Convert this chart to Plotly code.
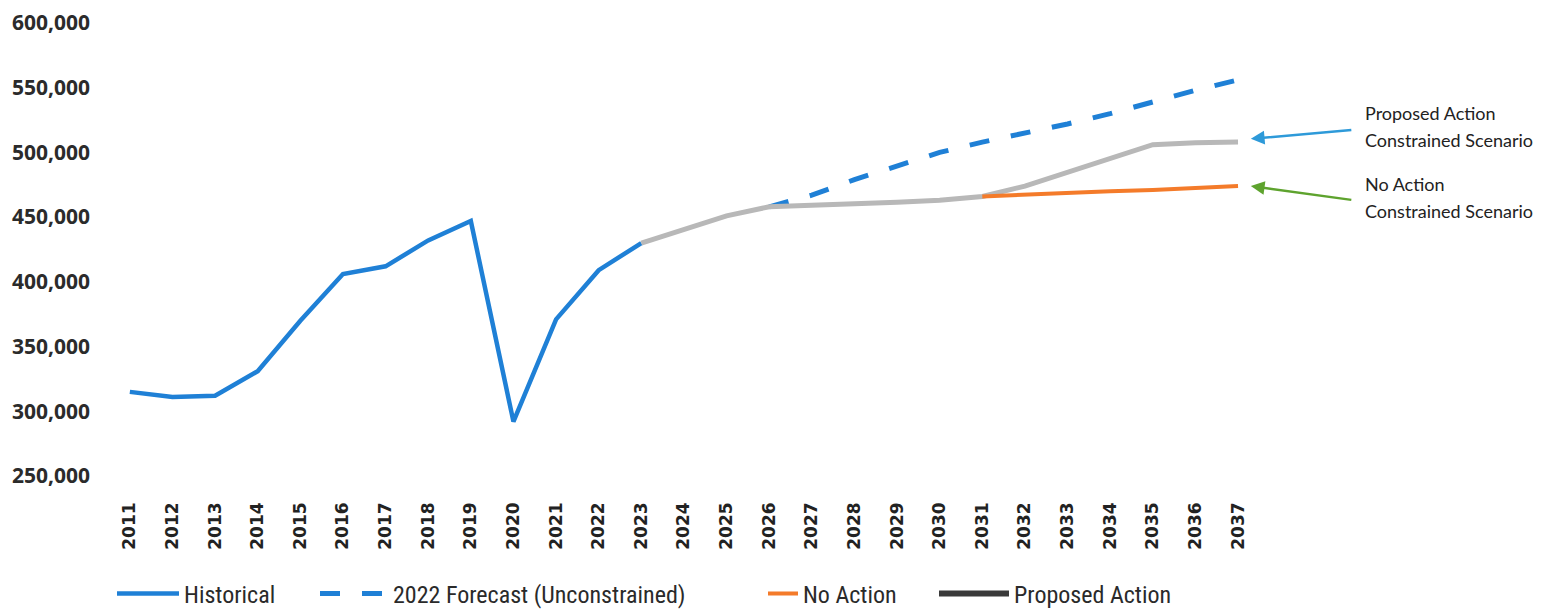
import plotly.graph_objects as go

years = list(range(2011, 2038))

hist_years = list(range(2011, 2024))
historical = [315000, 311000, 312000, 331000, 370000, 406000, 412000, 432000, 447000,
              292000, 371000, 409000, 430000]

forecast_years = list(range(2026, 2038))
forecast_2022 = [458000, 467000, 479000, 490000, 500000, 508000, 515000, 522000,
                 530000, 539000, 548000, 556000]

proposed_years = list(range(2023, 2038))
proposed_action = [430000, 441000, 451000, 458000, 459000, 460000, 461500, 463000,
                   466000, 474000, 485000, 496000, 506000, 507500, 508000]

noaction_years = list(range(2031, 2038))
no_action = [466000, 467500, 468500, 470000, 471000, 472500, 474000]

y_ticks = [250000, 300000, 350000, 400000, 450000, 500000, 550000, 600000]

BLUE = "#1f80d6"
ORANGE = "#f47b2a"
GRAY = "#b8b8b8"
DARK = "#3a3a3a"

fig = go.Figure()

fig.add_trace(go.Scatter(x=forecast_years, y=forecast_2022, mode="lines",
                         name="2022 Forecast (Unconstrained)",
                         line=dict(color=BLUE, width=5, dash="20px,22px"),
                         legend="legend2"))
fig.add_trace(go.Scatter(x=hist_years, y=historical, mode="lines", name="Historical",
                         line=dict(color=BLUE, width=4.5), legend="legend"))
fig.add_trace(go.Scatter(x=proposed_years, y=proposed_action, mode="lines",
                         name="Proposed Action", line=dict(color=GRAY, width=5),
                         showlegend=False))
fig.add_trace(go.Scatter(x=noaction_years, y=no_action, mode="lines", name="No Action",
                         line=dict(color=ORANGE, width=4), legend="legend3"))
# legend-only entry (the legend swatch of the proposed action is drawn dark)
fig.add_trace(go.Scatter(x=[None], y=[None], mode="lines", name="Proposed Action",
                         line=dict(color=DARK, width=6), legend="legend4"))

legend_font = dict(family="Roboto Condensed, Roboto, Liberation Sans, sans-serif",
                   size=24, color="#2a2a2a")

# plot area in page pixels (page body adds an 8px offset)
PLOT_TOP, PLOT_BOTTOM = 23, 476
PLOT_H = PLOT_BOTTOM - PLOT_TOP
leg_y = (PLOT_BOTTOM - 594) / PLOT_H


def leg(xp, w):
    return dict(x=xp, y=leg_y, xanchor="left", yanchor="middle", orientation="h",
                font=legend_font, bgcolor="rgba(0,0,0,0)", itemwidth=w,
                borderwidth=0)


fig.update_layout(
    width=1545, height=614,
    margin=dict(l=92, r=283, t=PLOT_TOP - 8, b=614 - (PLOT_BOTTOM - 8), autoexpand=False),
    paper_bgcolor="white", plot_bgcolor="white",
    legend=leg((112 - 100) / 1170, 62),
    legend2=leg((315 - 100) / 1170, 68),
    legend3=leg((763 - 100) / 1170, 30),
    legend4=leg((934 - 100) / 1170, 70),
    xaxis=dict(range=[2010.3, 2037.75], tickmode="array", tickvals=years,
               ticktext=[str(y) for y in years], tickangle=-90, automargin=False,
               showgrid=False, zeroline=False, showline=False, ticks="",
               ticklabelstandoff=22, ticklabeloverflow="allow",
               tickfont=dict(family="DejaVu Sans", size=17, color="#222222", weight="bold")),
    yaxis=dict(range=[250000, 600000], tickmode="array", tickvals=y_ticks,
               tickformat=",d", showgrid=False, zeroline=False, showline=False,
               ticks="", ticklabelstandoff=9, automargin=False,
               ticklabeloverflow="allow",
               tickfont=dict(family="Open Sans", size=21, color="#2b2b2b", weight="bold")),
)

ann_font = dict(family="Lato", size=18, color="#222222")
labels = [("Proposed Action", 113), ("Constrained Scenario", 140),
          ("No Action", 184), ("Constrained Scenario", 211)]
for txt, py in labels:
    fig.add_annotation(text=txt, xref="paper", yref="paper",
                       x=(1363 - 100) / 1170, y=(PLOT_BOTTOM - py) / PLOT_H,
                       xanchor="left", yanchor="middle", showarrow=False, font=ann_font)

fig.add_annotation(x=2037.3, y=proposed_action[-1] + 2500, xref="x", yref="y", text="",
                   showarrow=True, arrowhead=2, arrowsize=1.1, arrowwidth=2.5,
                   arrowcolor="#2e9ad9", ax=102, ay=-9)
fig.add_annotation(x=2037.3, y=no_action[-1], xref="x", yref="y", text="",
                   showarrow=True, arrowhead=2, arrowsize=1.1, arrowwidth=2.5,
                   arrowcolor="#5ea32e", ax=102, ay=14)

fig.write_html("out.html")
